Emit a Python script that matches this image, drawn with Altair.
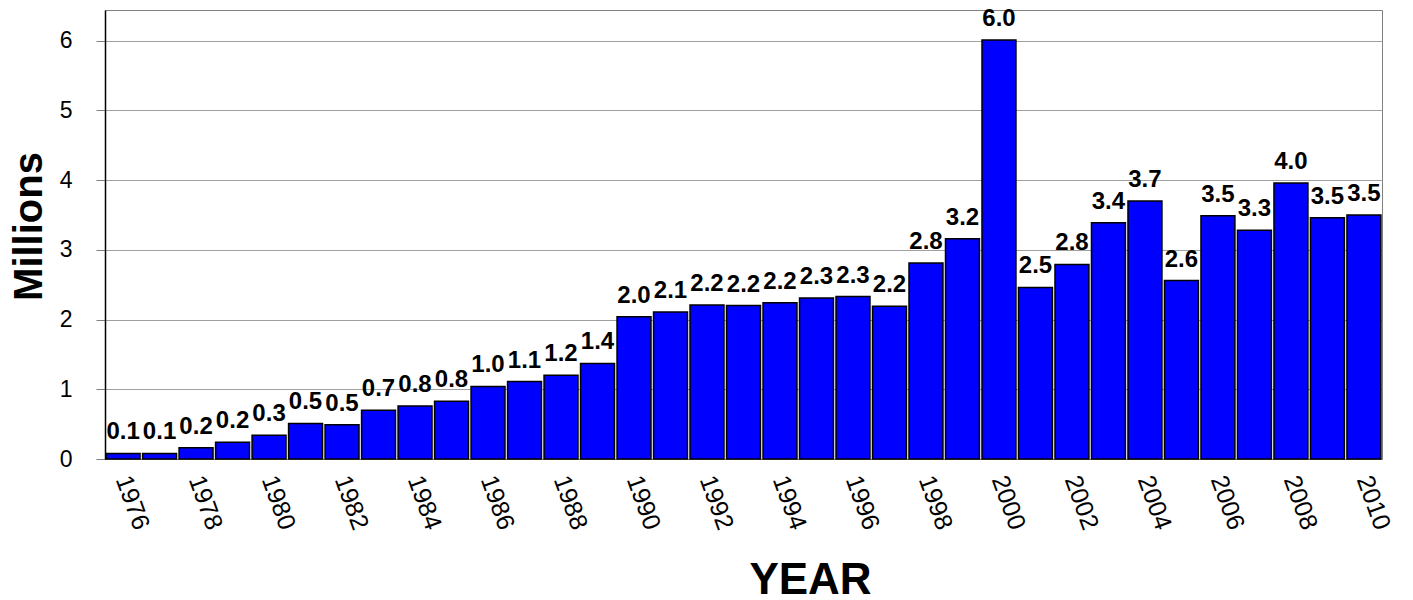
import altair as alt
import pandas as pd

years = list(range(1976, 2011))
values = [0.08, 0.08, 0.16, 0.24, 0.34, 0.51, 0.49, 0.70, 0.76, 0.83,
          1.04, 1.11, 1.20, 1.37, 2.04, 2.11, 2.21, 2.20, 2.24, 2.31,
          2.33, 2.19, 2.81, 3.16, 6.01, 2.46, 2.79, 3.39, 3.70, 2.56,
          3.49, 3.28, 3.96, 3.46, 3.50]
tick_years = list(range(1976, 2011, 2))
y_ticks = [0, 1, 2, 3, 4, 5, 6]

df = pd.DataFrame({"year": years, "value": values})

FONT = "Liberation Sans, Arial, sans-serif"

x = alt.X(
    "year:O",
    scale=alt.Scale(paddingInner=0.07, paddingOuter=0.03),
    axis=alt.Axis(
        values=tick_years,
        labelAngle=70,
        labelAlign="left",
        labelBaseline="middle",
        labelFontSize=25,
        labelFont=FONT,
        labelColor="black",
        labelPadding=17,
        ticks=False,
        tickSize=0,
        domainColor="#808080",
        domainWidth=1,
        title="YEAR",
        titleFont=FONT,
        titleFontSize=44,
        titleFontWeight="bold",
        titleColor="black",
        titleX=705,
        titleY=134,
        titleAlign="center",
        titleBaseline="alphabetic",
        grid=False,
    ),
)

y = alt.Y(
    "value:Q",
    scale=alt.Scale(domain=[0, 6.44], nice=False, zero=True),
    axis=alt.Axis(
        values=y_ticks,
        format="d",
        labelFontSize=23,
        labelFont=FONT,
        labelColor="black",
        labelPadding=24,
        tickSize=9,
        tickColor="#808080",
        domainColor="black",
        domainWidth=1.5,
        grid=True,
        gridColor="#a0a0a0",
        gridWidth=1,
        title="Millions",
        titleFont=FONT,
        titleFontSize=40,
        titleFontWeight="bold",
        titleColor="black",
        titleAngle=-90,
        titleX=-76,
        titleY=216,
        titleAlign="center",
        titleBaseline="middle",
    ),
)

bars = alt.Chart(df).mark_bar(
    color="#0000FF", stroke="black", strokeWidth=1.5
).encode(x=x, y=y)

labels = alt.Chart(df).mark_text(
    font=FONT, fontSize=24, fontWeight="bold", color="black",
    baseline="alphabetic", dy=-14
).encode(
    x=alt.X("year:O"),
    y=alt.Y("value:Q"),
    text=alt.Text("value:Q", format=".1f"),
)

chart = alt.layer(bars, labels).properties(
    width=1277,
    height=449,
    autosize=alt.AutoSizeParams(type="none"),
    padding={"left": 97, "top": 2, "right": 20, "bottom": 141},
).configure_view(
    stroke="#808080", strokeWidth=1
)

chart.save("out.html", embed_options={"renderer": "svg", "actions": False})
